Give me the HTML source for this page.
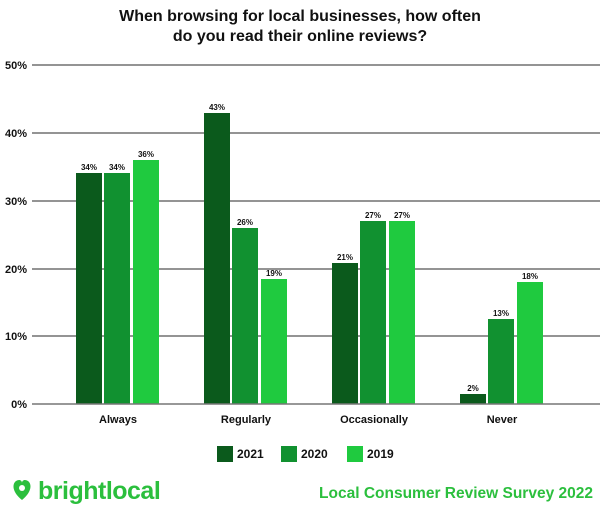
<!DOCTYPE html>
<html><head><style>
body{margin:0;width:600px;height:509px;background:#fff;overflow:hidden;font-family:"Liberation Sans",sans-serif}
</style></head><body>
<svg width="600" height="509" xmlns="http://www.w3.org/2000/svg" font-family="Liberation Sans, sans-serif">
<text x="300" y="21" text-anchor="middle" font-size="16" font-weight="bold" fill="#111">When browsing for local businesses, how often</text>
<text x="300" y="41" text-anchor="middle" font-size="16" font-weight="bold" fill="#111">do you read their online reviews?</text>
<g stroke="#555" stroke-width="1.2">
<line x1="32" y1="65" x2="600" y2="65"/><line x1="32" y1="133" x2="600" y2="133"/>
<line x1="32" y1="201" x2="600" y2="201"/><line x1="32" y1="269" x2="600" y2="269"/>
<line x1="32" y1="336" x2="600" y2="336"/>
</g>
<g font-size="11" font-weight="bold" fill="#111" text-anchor="end">
<text x="27" y="69">50%</text><text x="27" y="137">40%</text><text x="27" y="205">30%</text>
<text x="27" y="273">20%</text><text x="27" y="340">10%</text><text x="27" y="408">0%</text>
</g>
<g>
<rect x="76" y="173" width="26" height="231" fill="#0b5a1c"/>
<rect x="104" y="173" width="26" height="231" fill="#119130"/>
<rect x="133" y="160" width="26" height="244" fill="#1fca3f"/>
<rect x="204" y="113" width="26" height="291" fill="#0b5a1c"/>
<rect x="232" y="228" width="26" height="176" fill="#119130"/>
<rect x="261" y="279" width="26" height="125" fill="#1fca3f"/>
<rect x="332" y="263" width="26" height="141" fill="#0b5a1c"/>
<rect x="360" y="221" width="26" height="183" fill="#119130"/>
<rect x="389" y="221" width="26" height="183" fill="#1fca3f"/>
<rect x="460" y="394" width="26" height="10" fill="#0b5a1c"/>
<rect x="488" y="319" width="26" height="85" fill="#119130"/>
<rect x="517" y="282" width="26" height="122" fill="#1fca3f"/>
</g>
<line x1="32" y1="404" x2="600" y2="404" stroke="#777" stroke-width="1.5"/>
<g font-size="8" font-weight="bold" fill="#111" text-anchor="middle">
<text x="89" y="170">34%</text><text x="117" y="170">34%</text><text x="146" y="157">36%</text>
<text x="217" y="110">43%</text><text x="245" y="225">26%</text><text x="274" y="276">19%</text>
<text x="345" y="260">21%</text><text x="373" y="218">27%</text><text x="402" y="218">27%</text>
<text x="473" y="391">2%</text><text x="501" y="316">13%</text><text x="530" y="279">18%</text>
</g>
<g font-size="11" font-weight="bold" fill="#111" text-anchor="middle">
<text x="118" y="423">Always</text><text x="246" y="423">Regularly</text>
<text x="374" y="423">Occasionally</text><text x="502" y="423">Never</text>
</g>
<rect x="217" y="446" width="16" height="16" fill="#0b5a1c"/><text x="237" y="458" font-size="12" font-weight="bold" fill="#111">2021</text>
<rect x="281" y="446" width="16" height="16" fill="#119130"/><text x="301" y="458" font-size="12" font-weight="bold" fill="#111">2020</text>
<rect x="347" y="446" width="16" height="16" fill="#1fca3f"/><text x="367" y="458" font-size="12" font-weight="bold" fill="#111">2019</text>
<path d="M22 500 C12 492 12 484 16 481 C19 479 22 480 22 483 C22 480 25 479 28 481 C32 484 32 492 22 500Z" fill="#2bbf3d"/>
<circle cx="22" cy="488" r="3" fill="#fff"/>
<text x="38" y="499" font-size="25" font-weight="bold" fill="#2bbf3d" letter-spacing="-0.5">brightlocal</text>
<text x="593" y="498" text-anchor="end" font-size="15.5" font-weight="bold" fill="#2bbf3d">Local Consumer Review Survey 2022</text>
</svg>
</body></html>
